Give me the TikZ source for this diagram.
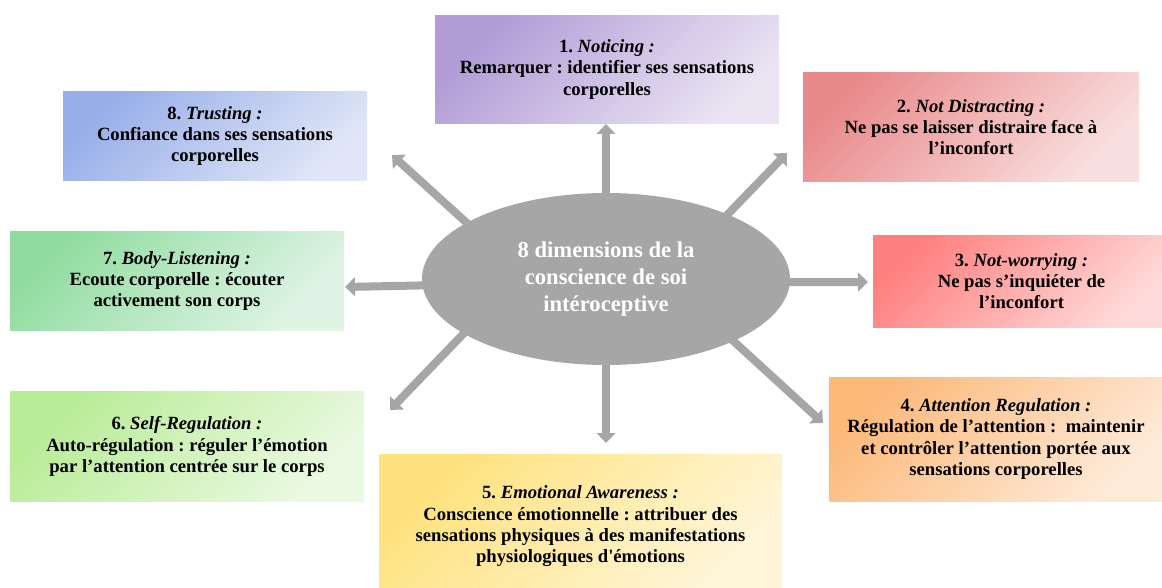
\documentclass[tikz,border=0pt]{standalone}
\usepackage{fontspec}
\setmainfont{Liberation Serif}
\usetikzlibrary{arrows.meta,shapes.geometric,backgrounds}

\definecolor{spokegray}{RGB}{166,166,166}
\definecolor{noticeA}{RGB}{177,156,214}   \definecolor{noticeB}{RGB}{234,228,243}
\definecolor{distractA}{RGB}{232,138,140} \definecolor{distractB}{RGB}{249,223,223}
\definecolor{worryA}{RGB}{255,128,128}    \definecolor{worryB}{RGB}{255,218,218}
\definecolor{attentA}{RGB}{252,185,122}   \definecolor{attentB}{RGB}{254,234,216}
\definecolor{emotA}{RGB}{255,226,125}     \definecolor{emotB}{RGB}{255,246,218}
\definecolor{selfA}{RGB}{184,236,150}     \definecolor{selfB}{RGB}{234,249,225}
\definecolor{listenA}{RGB}{144,220,160}   \definecolor{listenB}{RGB}{224,244,230}
\definecolor{trustA}{RGB}{151,174,232}    \definecolor{trustB}{RGB}{224,230,247}

\frenchspacing
\begin{document}
\begin{tikzpicture}[x=0.75pt,y=-0.75pt,
	dimbox/.style 2 args={rectangle,inner sep=0pt,top color=#1,bottom color=#2,shading angle=45,
		align=center,font=\bfseries\fontsize{14}{16}\selectfont},
	hub/.style={ellipse,fill=spokegray,inner sep=0pt,minimum width=276pt,minimum height=129pt,
		text=white,align=center,font=\bfseries\fontsize{17}{20.3}\selectfont},
	spoke/.style={spokegray,line width=6pt,shorten <=-6pt,
		-{Triangle[length=7.5pt,width=14pt]}}]
	\useasboundingbox (0,0) rectangle (1162,588);
	\clip (0,0) rectangle (1162,588);

	\node[hub] (centre) at (606,279) {8 dimensions de la\\conscience de soi\\intéroceptive};

	% the eight dimensions
	\node[dimbox={noticeA}{noticeB},minimum width=258pt,minimum height=81pt] (noticing) at (607,69.5)
		{1. \textit{Noticing :}\\Remarquer : identifier ses sensations\\corporelles};
	\node[dimbox={distractA}{distractB},minimum width=252pt,minimum height=81.75pt] (distract) at (971,127)
		{2. \textit{Not Distracting :}\\Ne pas se laisser distraire face à\\l’inconfort};
	\node[dimbox={worryA}{worryB},minimum width=222.75pt,minimum height=69pt] (worry) at (1021.5,281)
		{3. \textit{Not-worrying :}\\Ne pas s’inquiéter de\\l’inconfort};
	\node[dimbox={attentA}{attentB},minimum width=250.5pt,minimum height=93pt] (attention) at (996,439)
		{4. \textit{Attention Regulation :}\\Régulation de l’attention :~ maintenir\\et contrôler l’attention portée aux\\sensations corporelles};
	\node[dimbox={emotA}{emotB},minimum width=302.25pt,minimum height=108pt] (emotion) at (580.5,526.5)
		{5. \textit{Emotional Awareness :}\\Conscience émotionnelle : attribuer des\\sensations physiques à des manifestations\\physiologiques d\textquotesingle émotions};
	\node[dimbox={selfA}{selfB},minimum width=265.5pt,minimum height=82.5pt] (selfreg) at (187,446.5)
		{6. \textit{Self-Regulation :}\\Auto-régulation : réguler l’émotion\\par l’attention centrée sur le corps};
	\node[dimbox={listenA}{listenB},minimum width=250.5pt,minimum height=74.25pt] (listening) at (177,281)
		{7. \textit{Body-Listening :}\\Ecoute corporelle : écouter\\activement son corps};
	\node[dimbox={trustA}{trustB},minimum width=228pt,minimum height=66.75pt] (trusting) at (215,136)
		{8. \textit{Trusting :}\\Confiance dans ses sensations\\corporelles};

	% arrow tips
	\coordinate (t1) at (606,124);
	\coordinate (t2) at (787,153);
	\coordinate (t3) at (868,282);
	\coordinate (t4) at (823,423);
	\coordinate (t5) at (606,443);
	\coordinate (t6) at (390,410);
	\coordinate (t7) at (345,287);
	\coordinate (t8) at (392,155);

	\begin{scope}[on background layer]
		\path[spoke]
			(centre.north) edge (t1)
			(centre.28) edge (t2)
			(centre.359) edge (t3)
			(centre.334) edge (t4)
			(centre.south) edge (t5)
			(centre.201) edge (t6)
			(centre.182.5) edge (t7)
			(centre.158) edge (t8);
	\end{scope}
\end{tikzpicture}
\end{document}
